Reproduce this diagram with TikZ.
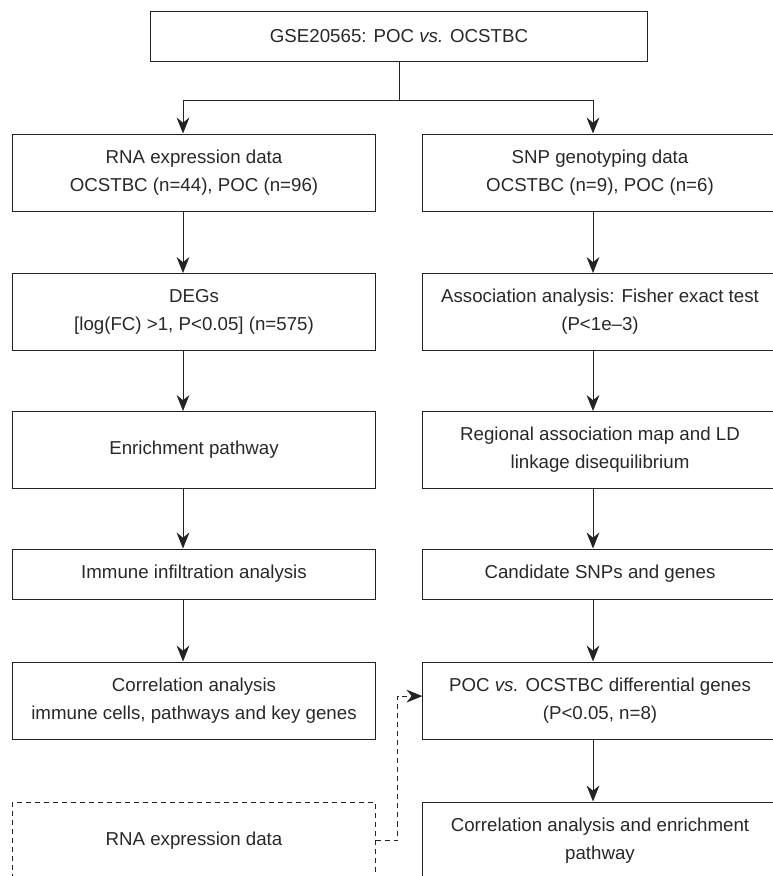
\documentclass[tikz,border=0pt]{standalone}
\usepackage{fontspec}
\setmainfont{Liberation Sans}
\usepackage{tikz}
\usetikzlibrary{arrows.meta, positioning, calc}
\definecolor{boxline}{RGB}{35,35,35}
\definecolor{boxtext}{RGB}{40,40,40}

\tikzset{
    flowbox/.style={draw=boxline, line width=0.7pt, text=boxtext, align=center,
        inner sep=0pt, font=\fontsize{13.3pt}{20pt}\selectfont},
    leftbox/.style={flowbox, minimum width=9.05cm, minimum height=1.925cm},
    rightbox/.style={flowbox, minimum width=8.85cm, minimum height=1.925cm},
    flowarrow/.style={draw=boxline, line width=0.7pt,
        -{Stealth[length=0.4cm, width=0.32cm, inset=0.13cm]}}
}

\begin{document}
\begin{tikzpicture}[x=0.025cm, y=-0.025cm]
    \useasboundingbox (0,0) rectangle (773,876);

    % Data set
    \node[flowbox, minimum width=12.4cm, minimum height=1.25cm] (gse) at (399,36)
        {GSE20565: POC \textit{vs.} OCSTBC};

    % Expression branch
    \node[leftbox] (rna) at (194,172.5) {RNA expression data\\OCSTBC (n=44), POC (n=96)};
    \node[leftbox] (degs) at (194,312) {DEGs\\{}[log(FC) >1, P<0.05] (n=575)};
    \node[leftbox] (enrich) at (194,450) {Enrichment pathway};
    \node[leftbox, minimum height=1.25cm] (immune) at (194,574) {Immune infiltration analysis};
    \node[leftbox] (corr) at (194,700.5) {Correlation analysis\\immune cells, pathways and key genes};
    \node[leftbox, dashed, dash pattern=on 0.125cm off 0.1cm] (rnaextra) at (194,840.5) {RNA expression data};

    % SNP branch
    \node[rightbox] (snp) at (600,172.5) {SNP genotyping data\\OCSTBC (n=9), POC (n=6)};
    \node[rightbox] (assoc) at (600,312) {Association analysis: Fisher exact test\\(P<1e–3)};
    \node[rightbox] (regional) at (600,450) {Regional association map and LD\\linkage disequilibrium};
    \node[rightbox, minimum height=1.25cm] (cand) at (600,574) {Candidate SNPs and genes};
    \node[rightbox] (diffgenes) at (600,700.5) {POC \textit{vs.} OCSTBC differential genes\\(P<0.05, n=8)};
    \node[rightbox] (corrpath) at (600,840.5) {Correlation analysis and enrichment\\pathway};

    % Split
    \coordinate (split) at (399,100);
    \coordinate (lx) at (183,100);
    \coordinate (rx) at (593,100);
    \draw[draw=boxline, line width=0.7pt] (gse.south) -- (split);
    \draw[flowarrow] (split) -| (rna.north -| lx);
    \draw[flowarrow] (split) -| (snp.north -| rx);

    % Left arrows
    \draw[flowarrow] (rna.south -| lx) -- (degs.north -| lx);
    \draw[flowarrow] (degs.south -| lx) -- (enrich.north -| lx);
    \draw[flowarrow] (enrich.south -| lx) -- (immune.north -| lx);
    \draw[flowarrow] (immune.south -| lx) -- (corr.north -| lx);

    % Right arrows
    \draw[flowarrow] (snp.south -| rx) -- (assoc.north -| rx);
    \draw[flowarrow] (assoc.south -| rx) -- (regional.north -| rx);
    \draw[flowarrow] (regional.south -| rx) -- (cand.north -| rx);
    \draw[flowarrow] (cand.south -| rx) -- (diffgenes.north -| rx);
    \draw[flowarrow] (diffgenes.south -| rx) -- (corrpath.north -| rx);

    % Extra input
    \draw[flowarrow, dash pattern=on 0.125cm off 0.1cm] (rnaextra.east) -- ++(22,0)
        |- ([yshift=0.11cm]diffgenes.west);
\end{tikzpicture}
\end{document}
